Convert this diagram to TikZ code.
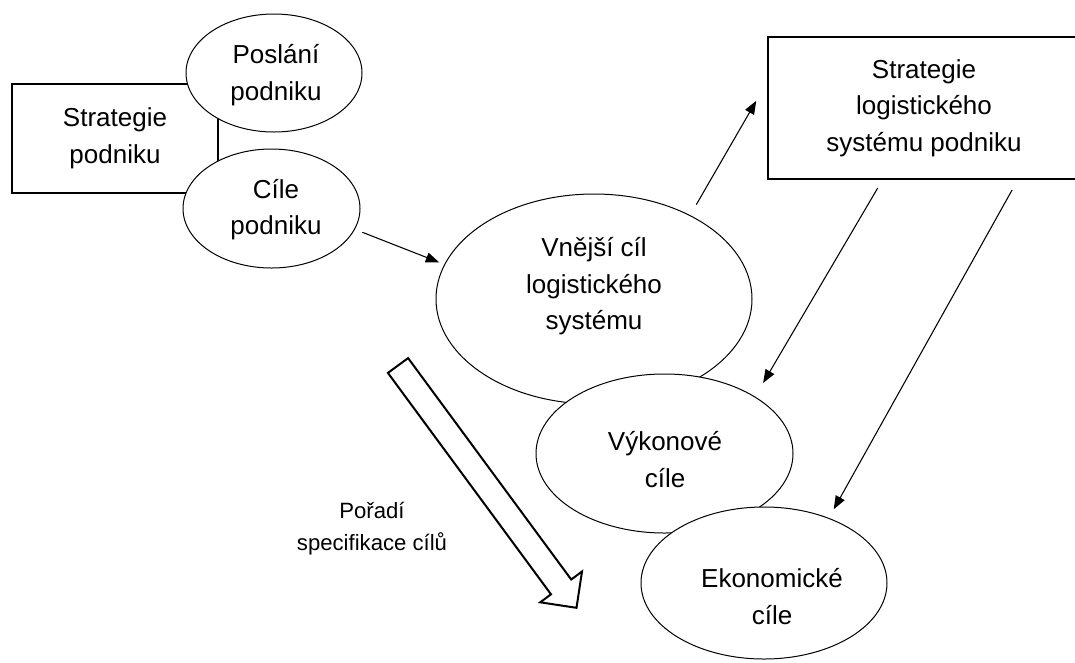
\documentclass[tikz,border=0pt]{standalone}
\usepackage{fontspec}
\setmainfont{Liberation Sans}
\usetikzlibrary{arrows.meta,shapes.geometric}
\begin{document}
\begin{tikzpicture}[x=0.75pt,y=-0.75pt,
  ell/.style={ellipse, draw, line width=0.75pt, fill=white, inner sep=0pt, outer sep=0pt},
  box/.style={rectangle, draw, line width=1pt, fill=white, inner sep=0pt, outer sep=0pt, align=center, font=\fontsize{19.5}{27.4}\selectfont},
  txt/.style={align=center, inner sep=0pt, font=\fontsize{19.5}{27.4}\selectfont},
  lbl/.style={align=center, inner sep=0pt, font=\fontsize{16.6}{24}\selectfont},
  arr/.style={line width=0.8pt, -{Triangle[length=10pt,width=7.5pt]}},
  hollow/.style={draw, line width=1.5pt, fill=white, line join=miter}
]
\useasboundingbox (0,0) rectangle (1075,662);
\clip (0,0) rectangle (1075,662);

% left group
\node[box, minimum width=154.5pt, minimum height=81.75pt] (sp) at (115,138.5) {Strategie\\podniku};
\node[ell, minimum width=132pt, minimum height=88.5pt] (pos) at (274,73) {};
\node[txt] (post) at (276,75) {Poslání\\podniku};
\node[ell, minimum width=132.75pt, minimum height=89.25pt] (cil) at (271.5,208.5) {};
\node[txt] (cilt) at (276,209.5) {Cíle\\podniku};

% centre ellipses
\node[ell, minimum width=237pt, minimum height=157.5pt] (vn) at (594,299) {};
\node[txt] (vnt) at (594,286.5) {Vnější cíl\\logistického\\systému};
\node[ell, minimum width=192.75pt, minimum height=119.25pt] (vy) at (664.5,453.5) {};
\node[txt] (vyt) at (665,459.5) {Výkonové\\cíle};
\node[ell, minimum width=184.5pt, minimum height=114pt] (ek) at (764,583) {};
\node[txt] (ekt) at (772,596.5) {Ekonomické\\cíle};

% right box
\node[box, minimum width=234pt, minimum height=106.5pt] (sl) at (924,108) {Strategie\\logistického\\systému podniku};

% arrows
\draw[arr, shorten <=6.4pt, shorten >=4.5pt] (cil.-14.5) -- (vn.167.3);
\draw[arr, shorten <=9.5pt, shorten >=17.6pt] (vn.41.7) -- (sl.170.1);
\draw[arr, shorten <=7.8pt, shorten >=12.2pt] (sl.-120.4) -- (vy.32);
\draw[arr, shorten <=9.45pt, shorten >=7.8pt] (sl.-37.3) -- (ek.45.5);

% block arrow
\draw[hollow] (408.1,358.1) -- (571.2,579.5) -- (582.0,571.5) -- (576.5,607.8) -- (540.2,602.3) -- (551.0,594.3) -- (387.9,372.9) -- cycle;
\node[lbl] (ord) at (372,529) {Pořadí\\specifikace cílů};
\end{tikzpicture}
\end{document}
